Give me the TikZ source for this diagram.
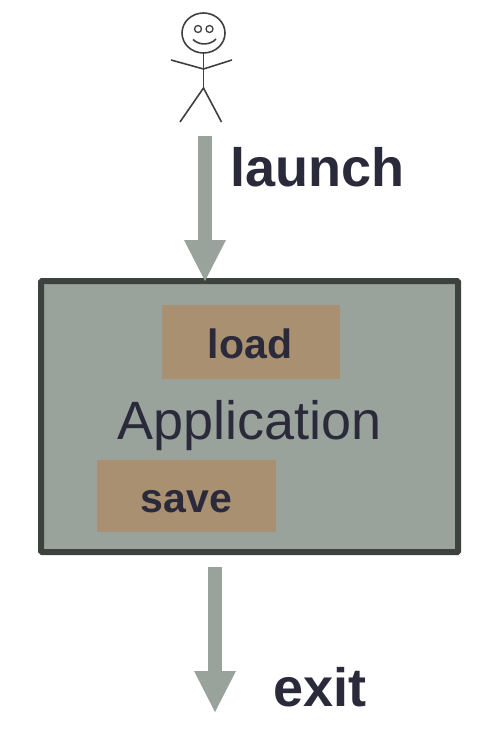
\documentclass[tikz,border=0pt]{standalone}
\usepackage{fontspec}
\setmainfont{Liberation Sans}
\usetikzlibrary{arrows.meta}
\definecolor{boxfill}{HTML}{99A39B}
\definecolor{boxline}{HTML}{3C423D}
\definecolor{tanfill}{HTML}{A89070}
\definecolor{inktext}{HTML}{2A2A3A}
\tikzset{
  flow/.style={draw=boxfill, line width=14pt, -{Triangle[length=41pt,width=42pt,line width=0pt]}},
  stick/.style={draw=black!75, line width=1.6pt},
  tanbox/.style={fill=tanfill, inner sep=0pt, text=inktext, font=\fontsize{41}{41}\selectfont\bfseries},
  biglabel/.style={text=inktext, font=\fontsize{54}{54}\selectfont\bfseries, inner sep=0pt},
}

\begin{document}
\begin{tikzpicture}[x=1pt, y=-1pt]
  \useasboundingbox (0,0) rectangle (490,738);
  % application box
  \node[draw=boxline, fill=boxfill, line width=6pt, rounded corners=1pt, minimum width=417pt, minimum height=271pt, inner sep=0pt] (app) at (249.5,416.5) {};
  \node[text=inktext, font=\fontsize{54}{54}\selectfont, inner sep=0pt, anchor=base] (apptext) at (249.5,439) {Application};
  \node[fill=tanfill, minimum width=178pt, minimum height=74pt, inner sep=0pt] (load) at (251,342) {};
  \node[fill=tanfill, minimum width=179pt, minimum height=72pt, inner sep=0pt] (save) at (186.5,495.5) {};
  \node[tanbox, fill=none, anchor=base] (loadtext) at (250,358) {load};
  \node[tanbox, fill=none, anchor=base] (savetext) at (186.5,512) {save};
  % stick figure
  \coordinate (neck) at (203.5,53);
  \coordinate (shoulder) at (203.5,69);
  \coordinate (hip) at (203.5,88);
  \coordinate (handL) at (171,60);
  \coordinate (handR) at (232,60);
  \coordinate (footL) at (180,122);
  \coordinate (footR) at (221.5,122);
  \draw[stick] (203.5,33) ellipse (21.5 and 20);
  \draw[stick, line width=1.3pt] (198,29) circle (3.5);
  \draw[stick, line width=1.3pt] (209.5,29) circle (3.5);
  \draw[stick] (193,39.5) .. controls (199,45.5) and (210,45.5) .. (216,39);
  \draw[stick] (neck) -- (hip);
  \draw[stick] (handL) -- (shoulder) -- (handR);
  \draw[stick] (footL) -- (hip) -- (footR);
  % arrows
  \coordinate (launchstart) at (205,136);
  \coordinate (launchend) at (205,281);
  \coordinate (exitstart) at (215,567);
  \coordinate (exitend) at (215,712);
  \draw[flow] (launchstart) -- (launchend);
  \draw[flow] (exitstart) -- (exitend);
  \node[biglabel, anchor=base west] (launch) at (230,186) {launch};
  \node[biglabel, anchor=base west] (exit) at (273,706) {exit};
\end{tikzpicture}
\end{document}
